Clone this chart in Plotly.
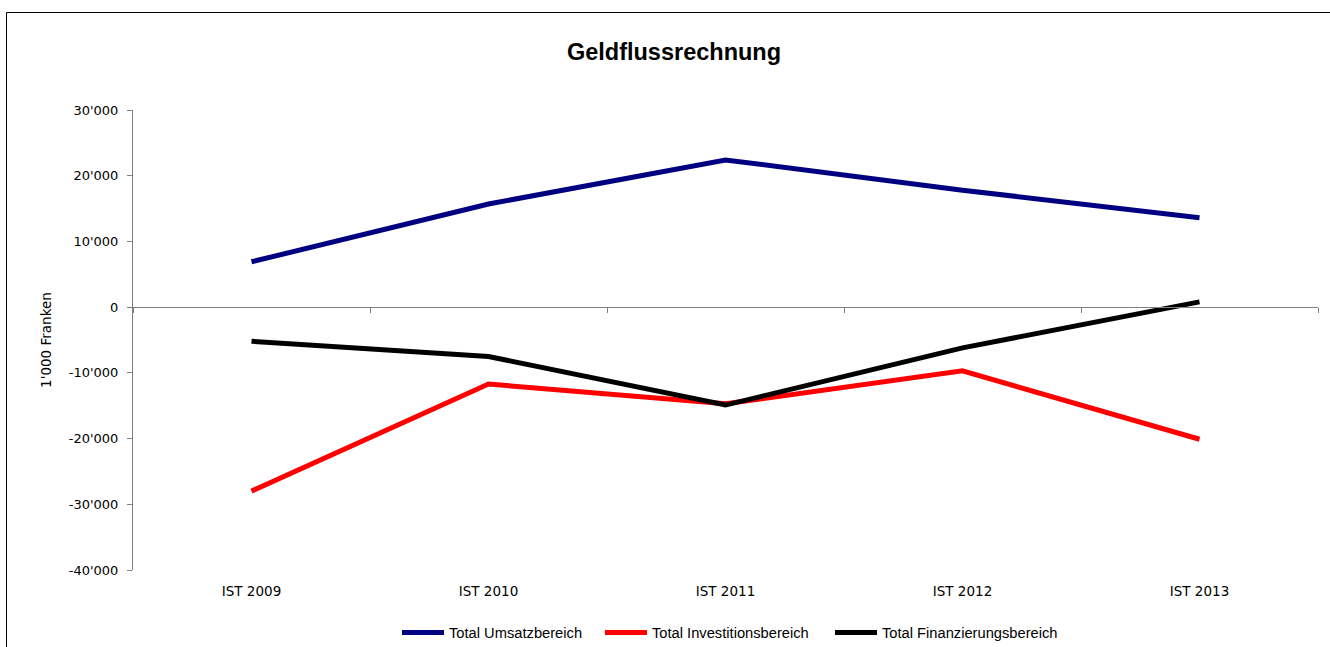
import plotly.graph_objects as go

categories = ["IST 2009", "IST 2010", "IST 2011", "IST 2012", "IST 2013"]
umsatz = [6900, 15700, 22400, 17800, 13600]
investition = [-28000, -11700, -14700, -9700, -20100]
finanzierung = [-5200, -7500, -14900, -6200, 800]
series_names = ["Total Umsatzbereich", "Total Investitionsbereich", "Total Finanzierungsbereich"]
series_colors = ["#000080", "#FF0000", "#000000"]
y_ticks = [30000, 20000, 10000, 0, -10000, -20000, -30000, -40000]
y_tick_labels = ["30'000", "20'000", "10'000", "0", "-10'000", "-20'000", "-30'000", "-40'000"]

legend_ids = ["legend", "legend2", "legend3"]
legend_px = [403, 606, 836]  # left edge of each legend sample line in pixels

fig = go.Figure()
for name, vals, col, lg in zip(series_names, [umsatz, investition, finanzierung], series_colors, legend_ids):
    fig.add_trace(go.Scatter(x=categories, y=vals, name=name, mode="lines",
                             line=dict(color=col, width=5), legend=lg))
# helper trace so the zero-position category axis exists
fig.add_trace(go.Scatter(x=categories, y=[None] * len(categories), xaxis="x2",
                         showlegend=False, hoverinfo="skip", mode="lines"))

axis_font = dict(family="DejaVu Sans", size=13.5, color="black")
ytick_font = dict(family="DejaVu Sans", size=13, color="black")
leg_font = dict(family="Liberation Sans", size=14.7, color="black")

def make_legend(px):
    return dict(orientation="h", x=(px - 6 - 133) / 1185, xanchor="left",
                y=(570 - 633) / 460, yanchor="middle", font=leg_font,
                itemwidth=42, bgcolor="rgba(0,0,0,0)")

fig.update_layout(
    width=1330, height=647,
    margin=dict(l=133, r=12, t=110, b=77, autoexpand=False),
    paper_bgcolor="white", plot_bgcolor="white",
    title=dict(text="<b>Geldflussrechnung</b>", x=674 / 1330, xanchor="center",
               y=1 - 52 / 647, yanchor="middle",
               font=dict(family="Liberation Sans", size=23.5, color="black")),
    xaxis=dict(type="category", range=[-0.5, 4.5], showline=False, ticks="",
               showgrid=False, zeroline=False, tickfont=axis_font, ticklabelstandoff=11,
               automargin=False),
    xaxis2=dict(type="category", range=[-0.5, 4.5], overlaying="x", anchor="free",
                position=40000 / 70000, showline=True, linecolor="#808080", linewidth=1,
                ticks="outside", tickson="boundaries", ticklen=5, tickcolor="#808080",
                showticklabels=False, showgrid=False, zeroline=False, automargin=False),
    yaxis=dict(range=[-40000, 30000], tickvals=y_ticks, ticktext=y_tick_labels,
               showline=True, linecolor="#808080", linewidth=1, ticks="outside",
               ticklen=5, tickcolor="#808080", showgrid=False, zeroline=False,
               tickfont=ytick_font, ticklabelstandoff=6, automargin=False,
               title=dict(text="1'000 Franken", font=axis_font, standoff=14)),
    legend=make_legend(legend_px[0]),
    legend2=make_legend(legend_px[1]),
    legend3=make_legend(legend_px[2]),
    showlegend=True,
    shapes=[dict(type="rect", xref="paper", yref="paper",
                 x0=(6.5 - 133) / 1185, x1=(1345 - 133) / 1185,
                 y0=(570 - 665) / 460, y1=(570 - 12.5) / 460,
                 line=dict(color="black", width=1), fillcolor="rgba(0,0,0,0)", layer="below")],
)

fig.write_html("out.html", post_script="document.body.style.margin='0';",
               config={"displayModeBar": False})
